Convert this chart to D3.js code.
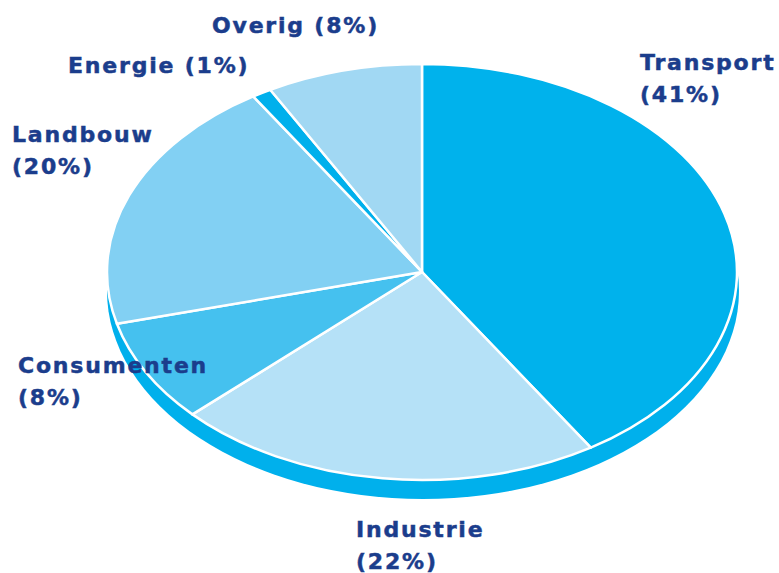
<!DOCTYPE html>
<html>
<head>
<meta charset="utf-8">
<script src="https://cdn.jsdelivr.net/npm/d3@7"></script>
<style>
  body { margin: 0; background: #fff; }
  svg text { font-family: "DejaVu Sans", sans-serif; font-weight: bold; fill: #1b3d8c;
             stroke: #1b3d8c; stroke-width: 0.5px; letter-spacing: 1.8px; }
</style>
</head>
<body>
<svg id="chart"></svg>
<script>
// sectors, clockwise from 12 o'clock
var sectors = ["Transport", "Industrie", "Consumenten", "Landbouw", "Energie", "Overig"];
var shares = [41, 22, 8, 20, 1, 8];
var colours = ["#00b2ec", "#b5e1f7", "#45c1ef", "#82d0f3", "#00b0ec", "#a1d8f3"];
// label lines as printed
var labelLines = [
  ["Transport", "(41%)"],
  ["Industrie", "(22%)"],
  ["Consumenten", "(8%)"],
  ["Landbouw", "(20%)"],
  ["Energie (1%)"],
  ["Overig (8%)"]
];
var labelPos = [[640, 70], [356, 537], [18, 373], [12, 142], [68, 73], [212, 33]];

var W = 779, H = 573;
var cx = 422, cy = 272, rx = 315, ry = 208, depth = 19;

var svg = d3.select("#chart").attr("width", W).attr("height", H);

var colour = d3.scaleOrdinal().domain(sectors).range(colours);

// the rim under the disc
svg.append("ellipse")
  .attr("cx", cx + 1).attr("cy", cy + depth)
  .attr("rx", rx + 1).attr("ry", ry)
  .attr("fill", "#00b0ec");

var pie = d3.pie().sort(null).value(d => d.v);
var arc = d3.arc().innerRadius(0).outerRadius(rx);
var data = sectors.map((s, i) => ({ s: s, v: shares[i] }));

var g = svg.append("g")
  .attr("transform", `translate(${cx},${cy}) scale(1,${ry / rx})`);

g.selectAll("path")
  .data(pie(data))
  .join("path")
  .attr("d", arc)
  .attr("fill", d => colour(d.data.s))
  .attr("stroke", "#fff")
  .attr("stroke-width", 2.5)
  .attr("stroke-linejoin", "round")
  .attr("vector-effect", "non-scaling-stroke");

var labels = svg.selectAll("text.lbl")
  .data(labelLines)
  .join("text")
  .attr("class", "lbl")
  .attr("x", (d, i) => labelPos[i][0])
  .attr("y", (d, i) => labelPos[i][1])
  .style("font-size", "22px");

labels.selectAll("tspan")
  .data(d => d)
  .join("tspan")
  .attr("x", function () { return this.parentNode.getAttribute("x"); })
  .attr("dy", (d, i) => i === 0 ? 0 : 32)
  .text(d => d);
</script>
</body>
</html>
